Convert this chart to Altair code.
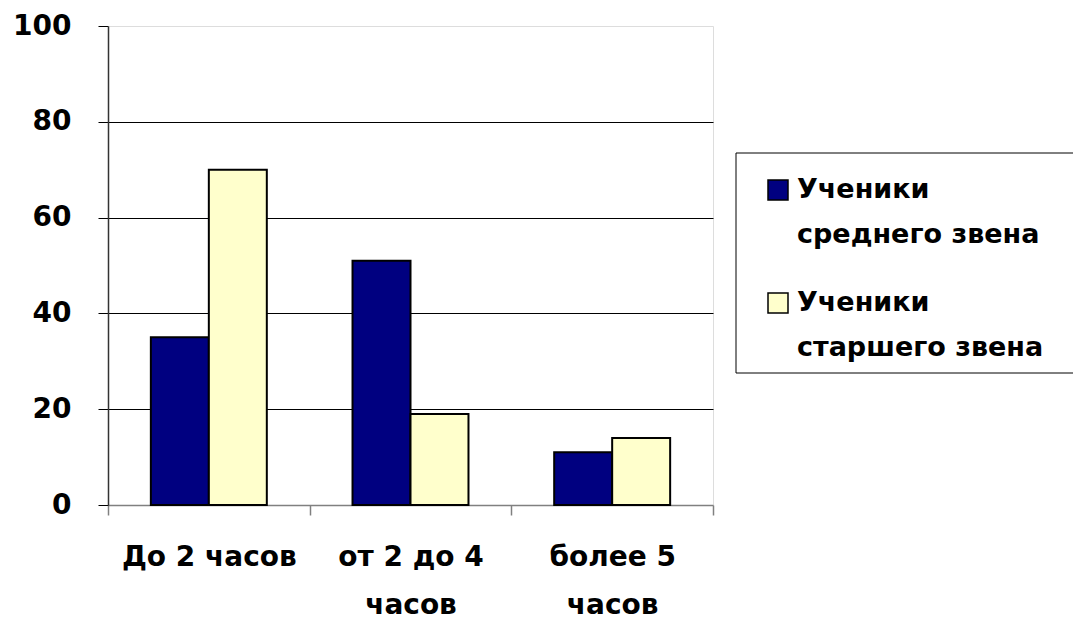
import altair as alt
import pandas as pd

categories = ["До 2 часов", "от 2 до 4 часов", "более 5 часов"]
series = ["Ученики среднего звена", "Ученики старшего звена"]
colors = ["#000080", "#FFFFCC"]
middle = [35, 51, 11]
senior = [70, 19, 14]
legend_labels = ["Ученики\nсреднего звена", "Ученики\nстаршего звена"]

rows = []
for i, c in enumerate(categories):
    rows.append({"cat": c, "series": series[0], "value": middle[i]})
    rows.append({"cat": c, "series": series[1], "value": senior[i]})
df = pd.DataFrame(rows)

FONT = "DejaVu Sans"

label_expr_x = ("datum.value == 'До 2 часов' ? 'До 2 часов' : "
                "datum.value == 'от 2 до 4 часов' ? ['от 2 до 4', 'часов'] : "
                "datum.value == 'более 5 часов' ? ['более 5', 'часов'] : ''")

bars = alt.Chart(df).mark_bar(stroke="black", strokeWidth=2).encode(
    x=alt.X("cat:N", sort=categories, title=None,
            scale=alt.Scale(paddingInner=0, paddingOuter=0),
            axis=alt.Axis(labelAngle=0, labelExpr=label_expr_x, labelFont=FONT,
                          labelFontSize=28, labelFontWeight="bold", labelColor="black",
                          labelPadding=28, labelLineHeight=48, tickBand="extent",
                          tickColor="#808080", tickSize=10, tickWidth=1.5,
                          domainColor="#808080", domainWidth=1.5,
                          labelBaseline="top", grid=False)),
    xOffset=alt.XOffset("series:N", sort=series,
                        scale=alt.Scale(paddingInner=0, paddingOuter=0.739)),
    y=alt.Y("value:Q", title=None,
            scale=alt.Scale(domain=[0, 100]),
            axis=alt.Axis(values=[0, 20, 40, 60, 80, 100], labelFont=FONT,
                          labelFontSize=28, labelFontWeight="bold", labelColor="black",
                          labelPadding=27, tickColor="black", tickSize=10,
                          domainColor="#333333", domainWidth=1.5,
                          gridColor={"condition": {"test": "datum.value == 100 || datum.value == 0",
                                                   "value": "transparent"},
                                     "value": "black"},
                          gridWidth=1)),
    color=alt.Color("series:N", sort=series,
                    scale=alt.Scale(domain=series, range=colors), legend=None),
)

# legend box
box = alt.Chart(pd.DataFrame({"k": [0]})).mark_rect(
    fill="white", stroke="black", strokeWidth=1
).encode(x=alt.value(628), x2=alt.value(990), y=alt.value(127), y2=alt.value(347))

layers = [bars, box]
item_y = [164, 277]
for i, s in enumerate(series):
    ldf = pd.DataFrame({"series": [s], "label": [legend_labels[i]]})
    sym = alt.Chart(ldf).mark_rect(
        fill=colors[i], stroke="black", strokeWidth=1.5
    ).encode(x=alt.value(660), x2=alt.value(680), y=alt.value(item_y[i] - 10),
             y2=alt.value(item_y[i] + 10))
    txt = alt.Chart(ldf).mark_text(
        align="left", baseline="middle", lineBreak="\n", lineHeight=45,
        font=FONT, fontSize=27, fontWeight="bold", color="black"
    ).encode(x=alt.value(689), y=alt.value(item_y[i]), text="label:N")
    layers += [sym, txt]

chart = alt.layer(*layers).properties(
    width=605, height=479,
    autosize=alt.AutoSizeParams(type="none"),
    padding={"left": 108, "top": 26, "right": 360, "bottom": 118},
).configure_view(
    fill="#C0C0C0", stroke="#808080", strokeWidth=1.5
).configure(background="white")

chart.save("out.html", embed_options={"renderer": "svg", "actions": False})
